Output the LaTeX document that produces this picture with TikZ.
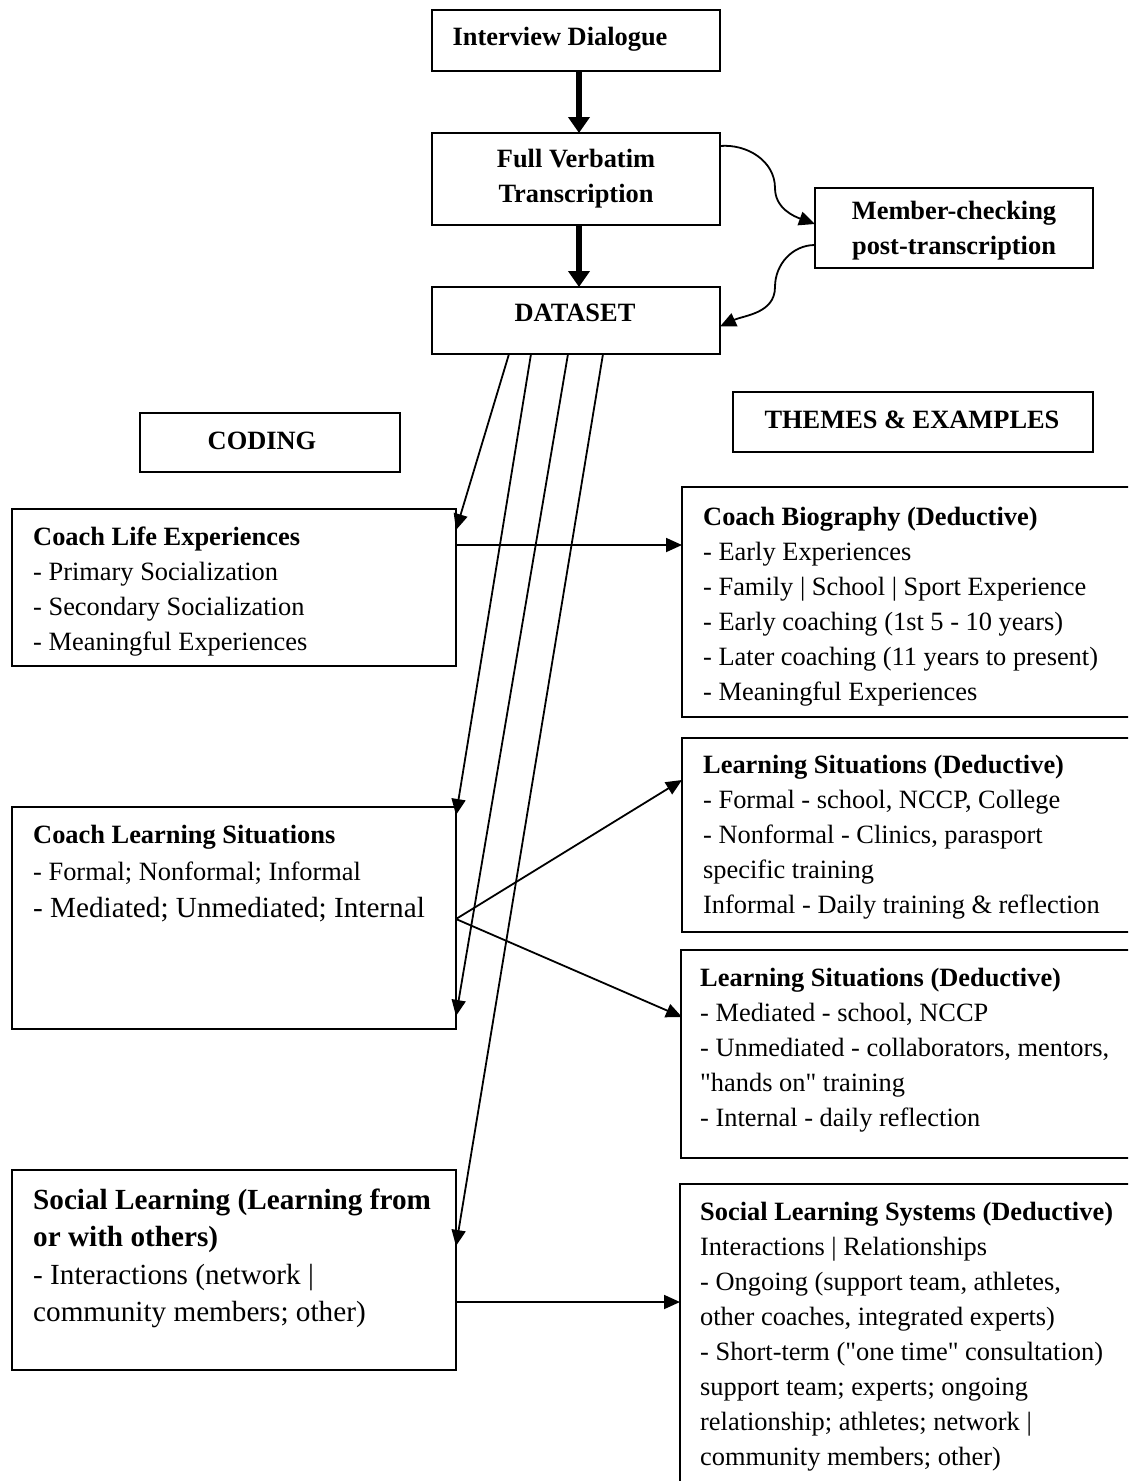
\documentclass[tikz,border=0pt]{standalone}
\usepackage{fontspec}
\setmainfont{Liberation Serif}[Ligatures=TeXOff]
\usetikzlibrary{arrows.meta,calc}
\tikzset{
  box/.style={draw, line width=1.8pt, inner sep=0pt, outer sep=0pt, anchor=north west},
  txt/.style={anchor=north west, inner sep=0pt, align=left, font=\fontsize{26.4}{35}\selectfont},
  bigtxt/.style={anchor=north west, inner sep=0pt, align=left, font=\fontsize{29.2}{37.5}\selectfont},
  ctr/.style={inner sep=0pt, align=center, font=\fontsize{26.4}{35}\selectfont\bfseries},
  thickarrow/.style={line width=6pt, -{Triangle[length=16pt,width=21pt]}},
  thinarrow/.style={line width=1.8pt, -{Triangle[length=16pt,width=14pt]}},
}
\begin{document}
\begin{tikzpicture}[x=1pt,y=-1pt]
\useasboundingbox (0,0) rectangle (1128,1481);
\fill[white] (0,0) rectangle (1128,1481);
\clip (0,0) rectangle (1128,1481);

% top chain
\node[box, minimum width=288pt, minimum height=61pt] (idl) at (432,10) {};
\node[ctr] (idlt) at (560,39) {Interview Dialogue};
\node[box, minimum width=288pt, minimum height=92pt] (fvt) at (432,133) {};
\node[ctr] (fvtt) at (576,179) {Full Verbatim\\Transcription};
\node[box, minimum width=278pt, minimum height=80pt] (mc) at (815,188) {};
\node[ctr] (mct) at (954,231) {Member-checking\\post-transcription};
\node[box, minimum width=288pt, minimum height=67pt] (ds) at (432,287) {};
\node[ctr] (dst) at (575,313) {DATASET};

% headers
\node[box, minimum width=260pt, minimum height=59pt] (cod) at (140,413) {};
\node[ctr] (codt) at (262,441) {CODING};
\node[box, minimum width=360pt, minimum height=60pt] (thm) at (733,392) {};
\node[ctr] (thmt) at (912,420) {THEMES \& EXAMPLES};

% left boxes
\node[box, minimum width=444pt, minimum height=157pt] (cle) at (12,509) {};
\node[txt] (clet) at ($(cle.north west)+(21,11.5)$) {\strut\textbf{Coach Life Experiences}\\- Primary Socialization\\- Secondary Socialization\\- Meaningful Experiences};

\node[box, minimum width=444pt, minimum height=222pt] (cls) at (12,807) {};
\node[txt, font=\fontsize{26.4}{37}\selectfont] (clst) at ($(cls.north west)+(21,10)$) {\strut\textbf{Coach Learning Situations}\\- Formal; Nonformal; Informal};
\node[anchor=base west, inner sep=0pt, font=\fontsize{29.2}{37.5}\selectfont] (clst2) at ($(cls.north west)+(21,110)$) {- Mediated; Unmediated; Internal};

\node[box, minimum width=444pt, minimum height=200pt] (sl) at (12,1170) {};
\node[bigtxt] (slt) at ($(sl.north west)+(21,13)$) {\strut\textbf{Social Learning (Learning from}\\\textbf{or with others)}\\- Interactions (network |\\community members; other)};

% right boxes
\node[box, minimum width=480pt, minimum height=230pt] (cbio) at (682,487) {};
\node[txt] (cbiot) at ($(cbio.north west)+(21,13.5)$) {\strut\textbf{Coach Biography (Deductive)}\\- Early Experiences\\- Family | School | Sport Experience\\- Early coaching (1st 5 - 10 years)\\- Later coaching (11 years to present)\\- Meaningful Experiences};

\node[box, minimum width=480pt, minimum height=194pt] (ls1) at (682,738) {};
\node[txt] (ls1t) at ($(ls1.north west)+(21,10.5)$) {\strut\textbf{Learning Situations (Deductive)}\\- Formal - school, NCCP, College\\- Nonformal - Clinics, parasport\\specific training\\Informal - Daily training \& reflection};

\node[box, minimum width=480pt, minimum height=208pt] (ls2) at (681,950) {};
\node[txt] (ls2t) at ($(ls2.north west)+(19,11.5)$) {\strut\textbf{Learning Situations (Deductive)}\\- Mediated - school, NCCP\\- Unmediated - collaborators, mentors,\\"hands on" training\\- Internal - daily reflection};

\node[box, minimum width=480pt, minimum height=330pt] (sls) at (680,1184) {};
\node[txt] (slst) at ($(sls.north west)+(20,11.5)$) {\strut\textbf{Social Learning Systems (Deductive)}\\Interactions | Relationships\\- Ongoing (support team, athletes,\\other coaches, integrated experts)\\- Short-term ("one time" consultation)\\support team; experts; ongoing\\relationship; athletes; network |\\community members; other)};

% thick arrows
\draw[thickarrow] ($(idl.south)+(3,0)$) -- ($(fvt.north)+(3,0)$);
\draw[thickarrow] ($(fvt.south)+(3,0)$) -- ($(ds.north)+(3,0)$);

% curved arrows
\draw[thinarrow] ($(fvt.north east)+(0,13)$) to[out=5,in=90] (775,188) to[out=-90,in=160] ($(mc.west)+(0,-4)$);
\draw[thinarrow] ($(mc.west)+(0,17)$) to[out=180,in=90] (775,287) to[out=-90,in=25] ($(ds.east)+(0,6)$);

% dataset fan
\draw[thinarrow] ($(ds.south west)+(77,0)$) -- ($(cle.north east)+(0,21)$);
\draw[thinarrow] ($(ds.south west)+(99,0)$) -- ($(cls.north east)+(0,8)$);
\draw[thinarrow] ($(ds.south west)+(136,0)$) -- ($(cls.south east)+(0,-13)$);
\draw[thinarrow] ($(ds.south west)+(171,0)$) -- ($(sl.north east)+(0,76)$);

% horizontal links
\draw[thinarrow] ($(cle.north east)+(0,36)$) -- ($(cbio.north west)+(0,58)$);
\draw[thinarrow] ($(cls.north east)+(0,112)$) -- ($(ls1.north west)+(0,42)$);
\draw[thinarrow] ($(cls.north east)+(0,112)$) -- ($(ls2.north west)+(1,67)$);
\draw[thinarrow] ($(sl.north east)+(0,132)$) -- ($(sls.north west)+(0,118)$);
\end{tikzpicture}
\end{document}
